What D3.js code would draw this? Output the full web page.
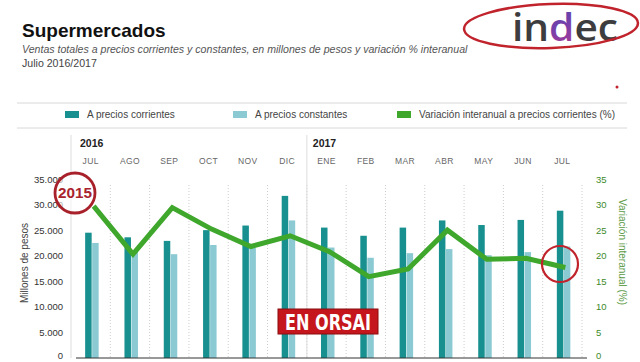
<!DOCTYPE html>
<html>
<head>
<meta charset="utf-8">
<script src="https://cdn.jsdelivr.net/npm/d3@7"></script>
<style>
  body { margin: 0; background: #fff; }
  svg { font-family: "Liberation Sans", Arial, sans-serif; }
</style>
</head>
<body>
<div id="chart"></div>
<script>
var months = ["JUL", "AGO", "SEP", "OCT", "NOV", "DIC", "ENE", "FEB", "MAR", "ABR", "MAY", "JUN", "JUL"];
var corrientes = [24500, 23600, 22900, 25000, 25900, 31700, 25500, 23900, 25500, 26900, 26000, 27000, 28800];
var constantes = [22500, 21000, 20300, 22100, 21500, 26900, 21600, 19600, 20500, 21300, 20100, 20700, 21800];
var variacion = [29.7, 20.3, 29.4, 25.2, 21.8, 23.9, 20.8, 15.9, 17.4, 25.0, 19.3, 19.5, 17.7];
var leftTicks = [0, 5000, 10000, 15000, 20000, 25000, 30000, 35000];
var rightTicks = [0, 5, 10, 15, 20, 25, 30, 35];

var width = 640, height = 362;
var teal = "#17908f", lightTeal = "#8ccad3", green = "#3ea72c", red = "#c0232b";

var svg = d3.select("#chart").append("svg")
    .attr("width", width)
    .attr("height", height);

// header
svg.append("text").attr("x", 22).attr("y", 37)
    .attr("font-size", 19).attr("font-weight", "bold").attr("fill", "#111")
    .text("Supermercados");
svg.append("text").attr("x", 22).attr("y", 53)
    .attr("font-size", 10.6).attr("font-style", "italic").attr("fill", "#555")
    .text("Ventas totales a precios corrientes y constantes, en millones de pesos y variación % interanual");
svg.append("text").attr("x", 22).attr("y", 67)
    .attr("font-size", 10.6).attr("fill", "#444")
    .text("Julio 2016/2017");

// logo
var defs = svg.append("defs");
var grad = defs.append("linearGradient").attr("id", "dgrad")
    .attr("x1", "0").attr("y1", "0").attr("x2", "1").attr("y2", "1");
grad.append("stop").attr("offset", "0%").attr("stop-color", "#2b4fb5");
grad.append("stop").attr("offset", "50%").attr("stop-color", "#7b3fa8");
grad.append("stop").attr("offset", "100%").attr("stop-color", "#e0317e");

var logo = svg.append("text").attr("x", 512).attr("y", 41)
    .attr("font-size", 37).attr("fill", "#3d3d3f").attr("font-weight", 600)
    .attr("font-family", "'Open Sans', sans-serif")
    .attr("textLength", 106).attr("lengthAdjust", "spacingAndGlyphs");
logo.append("tspan").text("in");
logo.append("tspan").attr("fill", "url(#dgrad)").text("d");
logo.append("tspan").text("ec");

svg.append("ellipse").attr("cx", 551).attr("cy", 26).attr("rx", 87).attr("ry", 22)
    .attr("fill", "none").attr("stroke", red).attr("stroke-width", 2.5)
    .attr("transform", "rotate(-2 551 26)");
svg.append("circle").attr("cx", 617).attr("cy", 87).attr("r", 1.5).attr("fill", red);

// legend
svg.append("line").attr("x1", 17).attr("x2", 627).attr("y1", 103).attr("y2", 103)
    .attr("stroke", "#d8d8d8");
svg.append("line").attr("x1", 17).attr("x2", 627).attr("y1", 128).attr("y2", 128)
    .attr("stroke", "#d8d8d8");
var legend = [
    { x: 65, color: teal, label: "A precios corrientes" },
    { x: 233, color: lightTeal, label: "A precios constantes" },
    { x: 397, color: green, label: "Variación interanual a precios corrientes (%)" }
];
var lg = svg.selectAll(".lg").data(legend).enter().append("g")
    .attr("transform", function (d) { return "translate(" + d.x + ",111)"; });
lg.append("rect").attr("width", 14).attr("height", 7).attr("fill", function (d) { return d.color; });
lg.append("text").attr("x", 22).attr("y", 7).attr("font-size", 10).attr("fill", "#444")
    .text(function (d) { return d.label; });

// scales
var x = d3.scaleBand().domain(d3.range(months.length)).range([71, 582]);
var yL = d3.scaleLinear().domain([0, 35000]).range([358, 179]);
var yR = d3.scaleLinear().domain([0, 35]).range([358, 179]);

// vertical grid
svg.selectAll(".grid").data(d3.range(1, months.length + 1)).enter().append("line")
    .attr("x1", function (d) { return x(d - 1) + x.bandwidth(); })
    .attr("x2", function (d) { return x(d - 1) + x.bandwidth(); })
    .attr("y1", 185).attr("y2", 358)
    .attr("stroke", "#ccc").attr("stroke-dasharray", "1,2");
[0, 6].forEach(function (i) {
    svg.append("line").attr("x1", x(i)).attr("x2", x(i)).attr("y1", 135).attr("y2", 358)
        .attr("stroke", "#ddd");
});

// years and months
svg.append("text").attr("x", x(0) + 9).attr("y", 147).attr("font-size", 10.5)
    .attr("font-weight", "bold").attr("fill", "#222").text("2016");
svg.append("text").attr("x", x(6) + 6).attr("y", 147).attr("font-size", 10.5)
    .attr("font-weight", "bold").attr("fill", "#222").text("2017");
svg.selectAll(".month").data(months).enter().append("text")
    .attr("x", function (d, i) { return x(i) + x.bandwidth() / 2; })
    .attr("y", 164).attr("text-anchor", "middle")
    .attr("font-size", 8.5).attr("fill", "#666").attr("letter-spacing", 0.4)
    .text(function (d) { return d; });

// bars
var bw = 6.5;
svg.selectAll(".bc").data(corrientes).enter().append("rect")
    .attr("x", function (d, i) { return x(i) + x.bandwidth() / 2 - 5.5; })
    .attr("width", bw)
    .attr("y", function (d) { return yL(d); })
    .attr("height", function (d) { return yL(0) - yL(d); })
    .attr("fill", teal);
svg.selectAll(".bk").data(constantes).enter().append("rect")
    .attr("x", function (d, i) { return x(i) + x.bandwidth() / 2 + 1.5; })
    .attr("width", bw)
    .attr("y", function (d) { return yL(d); })
    .attr("height", function (d) { return yL(0) - yL(d); })
    .attr("fill", lightTeal);

// baseline
svg.append("line").attr("x1", 76).attr("x2", 587).attr("y1", 358).attr("y2", 358)
    .attr("stroke", "#333").attr("stroke-width", 1);

// axes
var axL = svg.append("g").attr("transform", "translate(63,0)")
    .call(d3.axisLeft(yL).tickValues(leftTicks).tickSize(0).tickPadding(0)
        .tickFormat(function (d) { return d === 0 ? "0" : d3.format(",")(d).replace(",", "."); }));
axL.select(".domain").remove();
axL.selectAll("text").attr("font-size", 9.5).attr("fill", "#333")
    .attr("font-family", "'Liberation Sans', Arial, sans-serif");

var axR = svg.append("g").attr("transform", "translate(596,0)")
    .call(d3.axisRight(yR).tickValues(rightTicks).tickSize(0).tickPadding(0));
axR.select(".domain").remove();
axR.selectAll("text").attr("font-size", 9.5).attr("fill", "#3d8a2a")
    .attr("font-family", "'Liberation Sans', Arial, sans-serif");

// keep the bottom "0" labels inside the frame
axL.selectAll(".tick").filter(function (d) { return d === 0; }).select("text").attr("dy", "0.1em");
axR.selectAll(".tick").filter(function (d) { return d === 0; }).select("text").attr("dy", "0.1em");

svg.append("text").attr("transform", "translate(28,263) rotate(-90)")
    .attr("text-anchor", "middle").attr("font-size", 10).attr("fill", "#444")
    .text("Millones de pesos");
svg.append("text").attr("transform", "translate(619,252) rotate(90)")
    .attr("text-anchor", "middle").attr("font-size", 10).attr("fill", "#5b9a45")
    .text("Variación interanual (%)");

// line
var line = d3.line()
    .x(function (d, i) { return x(i) + x.bandwidth() / 2 + 3; })
    .y(function (d) { return yR(d); });
svg.append("path").datum(variacion)
    .attr("d", line).attr("fill", "none")
    .attr("stroke", green).attr("stroke-width", 5).attr("stroke-linejoin", "miter");

// annotations
svg.append("circle").attr("cx", 75).attr("cy", 193).attr("r", 20)
    .attr("fill", "rgba(255,255,255,0.6)").attr("stroke", "#a8202a").attr("stroke-width", 2.8);
svg.append("text").attr("x", 75).attr("y", 198).attr("text-anchor", "middle")
    .attr("font-size", 14).attr("font-weight", "bold").attr("fill", "#a8232c")
    .attr("textLength", 34).attr("lengthAdjust", "spacingAndGlyphs")
    .text("2015");
svg.append("circle").attr("cx", 560).attr("cy", 264).attr("r", 18)
    .attr("fill", "none").attr("stroke", red).attr("stroke-width", 2.2);

svg.append("rect").attr("x", 278).attr("y", 309).attr("width", 100).attr("height", 25)
    .attr("fill", "#c4161c").attr("stroke", "#8a0d10").attr("stroke-width", 1);
svg.append("text").attr("x", 328).attr("y", 330).attr("text-anchor", "middle")
    .attr("font-size", 22).attr("font-weight", "bold").attr("fill", "#fff")
    .attr("font-family", "'Liberation Sans Narrow', 'DejaVu Sans Condensed', sans-serif")
    .attr("textLength", 86).attr("lengthAdjust", "spacingAndGlyphs")
    .text("EN ORSAI");
</script>
</body>
</html>
